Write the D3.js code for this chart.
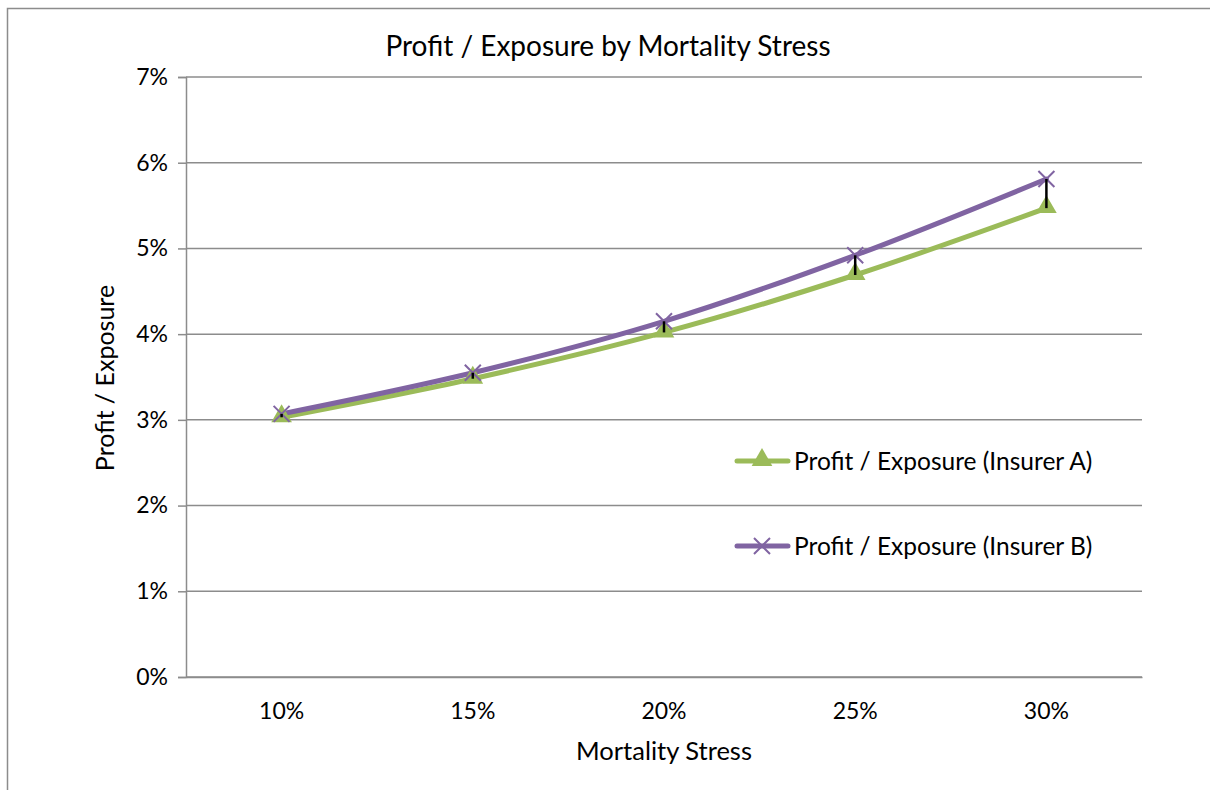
<!DOCTYPE html>
<html>
<head>
<meta charset="utf-8">
<script src="https://cdn.jsdelivr.net/npm/d3@7"></script>
<style>
  body { margin: 0; background: #fff; }
  text { font-family: Lato, "Open Sans", sans-serif; fill: #000; }
</style>
</head>
<body>
<div id="chart"></div>
<script>
// data
var stress = ["10%", "15%", "20%", "25%", "30%"];
var insurerA = [3.03, 3.48, 4.02, 4.69, 5.47];
var insurerB = [3.07, 3.55, 4.15, 4.92, 5.81];
var yTicks = [0, 1, 2, 3, 4, 5, 6, 7];
var seriesNames = ["Profit / Exposure (Insurer A)", "Profit / Exposure (Insurer B)"];

var W = 1210, H = 790;
var margin = { top: 77, right: 68, bottom: 113, left: 186 },
    width = W - margin.left - margin.right,
    height = H - margin.top - margin.bottom;

var green = "#9bbb59", purple = "#8064a2";

var x = d3.scaleBand().domain(stress).range([0, width]);
var y = d3.scaleLinear().domain([0, 7]).range([height, 0]);

var root = d3.select("#chart").append("svg")
    .attr("width", W)
    .attr("height", H);

// outer chart frame
root.append("rect")
    .attr("x", 7.5).attr("y", 8.5)
    .attr("width", 1230).attr("height", 800)
    .attr("fill", "none")
    .attr("stroke", "#8c8c8c")
    .attr("stroke-width", 1.5);

root.append("text")
    .attr("x", 608).attr("y", 56)
    .attr("text-anchor", "middle")
    .attr("font-size", 28)
    .text("Profit / Exposure by Mortality Stress");

var svg = root.append("g")
    .attr("transform", "translate(" + margin.left + "," + margin.top + ")");

// horizontal gridlines
svg.append("g")
    .selectAll("line")
    .data(yTicks)
    .enter().append("line")
    .attr("x1", 0).attr("x2", width)
    .attr("y1", d => y(d)).attr("y2", d => y(d))
    .attr("stroke", "#8c8c8c")
    .attr("stroke-width", 1.5);

// y axis
var yAxis = svg.append("g")
    .call(d3.axisLeft(y).tickValues(yTicks).tickSize(8).tickPadding(10)
        .tickFormat(d => d + "%"));
yAxis.select(".domain").attr("stroke", "#8c8c8c").attr("stroke-width", 1.5);
yAxis.selectAll("line").attr("stroke", "#8c8c8c").attr("stroke-width", 1.5);
yAxis.selectAll("text").attr("font-size", 23).attr("font-family", "Lato, sans-serif").attr("fill", "#000");

// x axis
var xAxis = svg.append("g")
    .attr("transform", "translate(0," + height + ")")
    .call(d3.axisBottom(x).tickSize(0).tickPadding(26));
xAxis.select(".domain").attr("stroke", "#8c8c8c").attr("stroke-width", 1.5);
xAxis.selectAll("text").attr("font-size", 23).attr("font-family", "Lato, sans-serif").attr("fill", "#000");

root.append("text")
    .attr("x", 664).attr("y", 760)
    .attr("text-anchor", "middle")
    .attr("font-size", 25.5)
    .text("Mortality Stress");

root.append("text")
    .attr("transform", "translate(114,378) rotate(-90)")
    .attr("text-anchor", "middle")
    .attr("font-size", 25)
    .text("Profit / Exposure");

var cx = d => x(d) + x.bandwidth() / 2;

var line = d3.line()
    .x((d, i) => cx(stress[i]))
    .y(d => y(d))
    .curve(d3.curveCatmullRom.alpha(0));

svg.append("path")
    .datum(insurerA)
    .attr("d", line)
    .attr("fill", "none")
    .attr("stroke", green)
    .attr("stroke-width", 5)
    .attr("stroke-linecap", "round");

svg.append("path")
    .datum(insurerB)
    .attr("d", line)
    .attr("fill", "none")
    .attr("stroke", purple)
    .attr("stroke-width", 5)
    .attr("stroke-linecap", "round");

var tri = d3.symbol().type(d3.symbolTriangle).size(185);

svg.append("g")
    .selectAll("path")
    .data(insurerA)
    .enter().append("path")
    .attr("d", tri)
    .attr("transform", (d, i) => "translate(" + cx(stress[i]) + "," + (y(d) - 1) + ")")
    .attr("fill", green);

var crossPath = "M-8,-8L8,8M-8,8L8,-8";
svg.append("g")
    .selectAll("path")
    .data(insurerB)
    .enter().append("path")
    .attr("d", crossPath)
    .attr("transform", (d, i) => "translate(" + cx(stress[i]) + "," + y(d) + ")")
    .attr("fill", "none")
    .attr("stroke", purple)
    .attr("stroke-width", 2);

// high-low lines
svg.append("g")
    .selectAll("line")
    .data(stress)
    .enter().append("line")
    .attr("x1", d => cx(d)).attr("x2", d => cx(d))
    .attr("y1", (d, i) => y(insurerB[i]))
    .attr("y2", (d, i) => y(insurerA[i]))
    .attr("stroke", "#000")
    .attr("stroke-width", 2.5);

// legend
var legend = root.append("g");
var legendRows = [
    { name: seriesNames[0], color: green, ly: 461, mark: "tri" },
    { name: seriesNames[1], color: purple, ly: 546, mark: "x" }
];
legendRows.forEach(function (r) {
    var g = legend.append("g").attr("transform", "translate(0," + r.ly + ")");
    g.append("line")
        .attr("x1", 737).attr("x2", 788)
        .attr("y1", 0).attr("y2", 0)
        .attr("stroke", r.color)
        .attr("stroke-width", 5)
        .attr("stroke-linecap", "round");
    if (r.mark === "tri") {
        g.append("path").attr("d", tri)
            .attr("transform", "translate(762,-1)")
            .attr("fill", r.color);
    } else {
        g.append("path").attr("d", crossPath)
            .attr("transform", "translate(762,0)")
            .attr("fill", "none").attr("stroke", r.color).attr("stroke-width", 2);
    }
    g.append("text")
        .attr("x", 794).attr("y", 9)
        .attr("font-size", 24.5)
        .text(r.name);
});
</script>
</body>
</html>
